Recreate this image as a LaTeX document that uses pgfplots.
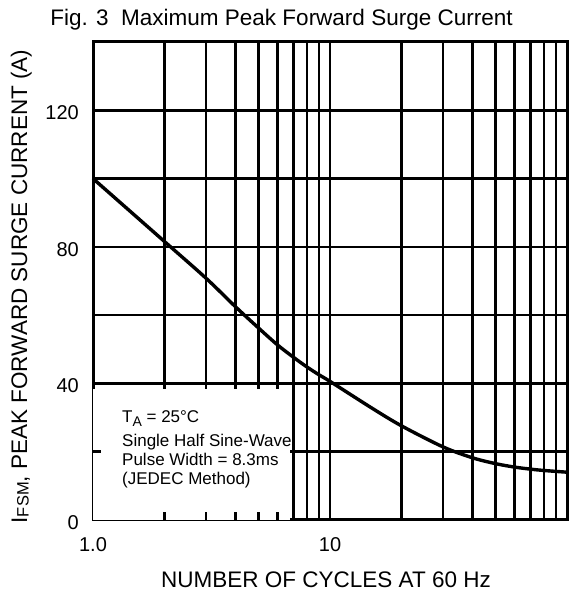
\documentclass[border=0pt]{standalone}
\usepackage{pgfplots}
\pgfplotsset{compat=1.18}
\usepackage{fontspec}
\setmainfont{Liberation Sans}
\pgfplotsset{
  layers/mylayers/.define layer set={axis background,axis grid,pre main,axis ticks,axis lines,axis tick labels,main,axis descriptions,axis foreground}{},
}
\begin{document}
\begin{tikzpicture}[x=1pt,y=1pt]
\begin{axis}[
  set layers=mylayers,
  at={(93pt,74pt)}, anchor=south west,
  width=474pt, height=478pt, scale only axis,
  xmode=log, xmin=1, xmax=100, ymin=0, ymax=140,
  log basis x=10,
  xtick={1,10,100}, xticklabels={1.0,10,},
  minor xtick={2,3,4,5,6,7,8,9,20,30,40,50,60,70,80,90},
  ytick={0,20,40,60,80,100,120,140},
  yticklabels={0,,40,,80,,120,},
  grid=both,
  major grid style={black, line width=2.5pt},
  minor grid style={black, line width=2.5pt},
  axis line style={black, line width=3pt},
  tick style={black, line width=2.5pt},
  major tick length=8pt, minor tick length=8pt,
  tick align=inside,
  xticklabel style={font=\fontsize{20}{24}\selectfont, anchor=base, inner sep=0pt, yshift=-32pt},
  yticklabel style={font=\fontsize{20}{24}\selectfont, anchor=east, inner sep=0pt, xshift=-14pt, yshift=-2.5pt},
  clip=false,
]
\fill[white, on layer=pre main] (axis cs:1,0) rectangle (axis cs:6.8,38.5);
\draw[black, line width=2.5pt] (axis cs:2,0) -- ++(0pt,8pt);
\draw[black, line width=2.5pt] (axis cs:3,0) -- ++(0pt,8pt);
\draw[black, line width=2.5pt] (axis cs:4,0) -- ++(0pt,8pt);
\draw[black, line width=2.5pt] (axis cs:5,0) -- ++(0pt,8pt);
\draw[black, line width=2.5pt] (axis cs:6,0) -- ++(0pt,8pt);
\draw[black, line width=2.5pt] (axis cs:1,20) -- ++(8pt,0pt);
\addplot[black, line width=3.4pt, smooth, tension=0.5] coordinates {
  (1,100) (2,81.6) (3,70.8) (4,62.4) (5,56.2) (6,51.3) (7,47.7) (8,44.8) (9,42.5)
  (10,40.6) (15,32.8) (20,27.6) (30,21.4) (40,18.2) (50,16.5) (60,15.5)
  (70,14.9) (80,14.5) (100,14.0)
};
\end{axis}
\node[anchor=base] at (281.5,568) {\fontsize{22.5}{27}\selectfont Fig. 3\ \ Maximum Peak Forward Surge Current};
\node[anchor=base] at (326,6) {\fontsize{22.5}{27}\selectfont NUMBER OF CYCLES AT 60 Hz};
\node[rotate=90, anchor=base] at (27,307.5) {\fontsize{22.5}{27}\selectfont I\raisebox{-1.5pt}{\fontsize{16.5}{18}\selectfont FSM}, PEAK FORWARD SURGE CURRENT (A)};
\begin{scope}[every node/.style={anchor=base west, inner sep=0pt, font=\fontsize{17}{19}\selectfont}]
\node at (122,171) {T\raisebox{-4pt}{\fontsize{14}{14}\selectfont A} = 25\textdegree C};
\node at (122,147) {Single Half Sine-Wave};
\node at (122,128) {Pulse Width = 8.3ms};
\node at (122,109) {(JEDEC Method)};
\end{scope}
\pgfresetboundingbox
\path[use as bounding box] (0,0) rectangle (568,594);
\end{tikzpicture}
\end{document}
